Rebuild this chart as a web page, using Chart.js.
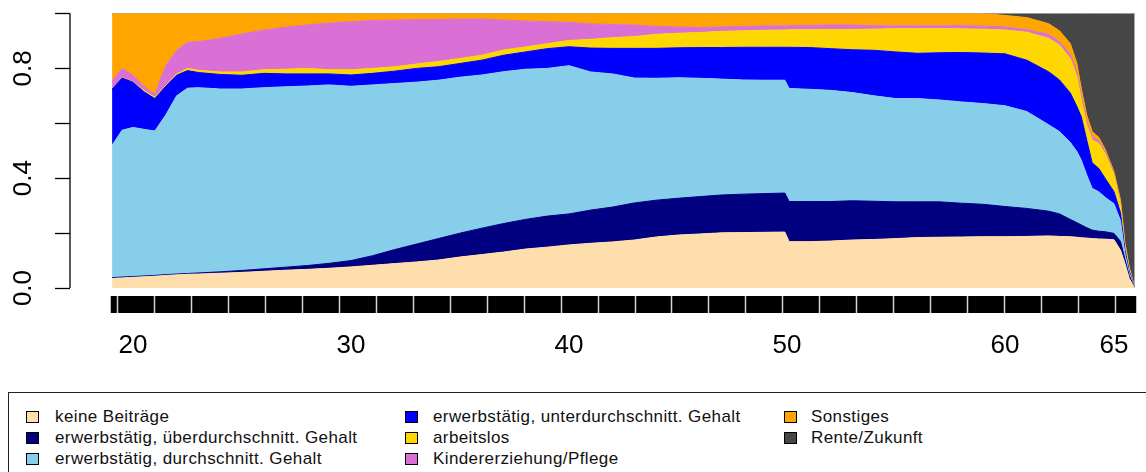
<!DOCTYPE html>
<html>
<head>
<meta charset="utf-8">
<script src="https://cdn.jsdelivr.net/npm/chart.js@4.4.0/dist/chart.umd.min.js"></script>
<style>
  body { margin: 0; background: #fff; font-family: "Liberation Sans", Arial, sans-serif; }
  #wrap { position: relative; width: 1146px; height: 472px; overflow: hidden; }
  #plot { position: absolute; left: 0; top: 0; }
  #legendBox { position: absolute; left: 8px; top: 392px; width: 1160px; height: 120px;
               border: 1px solid #222; box-sizing: border-box; }
  .item { position: absolute; font-size: 17px; letter-spacing: 0.4px; color: #111; line-height: 20px; white-space: nowrap; }
  .sw { position: absolute; width: 11px; height: 10px; border: 1px solid #000; }
</style>
</head>
<body>
<div id="wrap">
  <canvas id="plot" width="1146" height="385"></canvas>
  <div id="legendBox"></div>
</div>
<script>
// age in years (x positions of the readings)
const ages = [19.04, 19.5, 20, 20.5, 21, 21.5, 22, 22.5, 23, 24, 25, 26, 27, 28, 29, 30, 31, 32, 33, 34,
  35, 36, 37, 38, 39, 40, 41, 42, 43, 44, 45, 46, 47, 48, 49, 49.9, 50.1, 51, 52, 53, 54, 55, 56, 57, 58, 59,
  60, 61, 62, 62.5, 63, 63.3, 63.5, 63.75, 64, 64.3, 64.6, 65, 65.3, 65.5, 65.7, 65.95];

// shares per state
const keineBeitraege = [.035,.037,.039,.041,.043,.046,.048,.050,.051,.054,
  .057,.061,.065,.068,.072,.077,.083,.089,.095,.102,
  .113,.122,.131,.142,.149,.157,.163,.168,.175,.186,
  .193,.197,.201,.202,.203,.204,.169,.169,.171,.175,
  .177,.18,.184,.185,.186,.187,.187,.188,.19,.188,
  .187,.185,.183,.182,.18,.179,.178,.176,.138,.09,
  .035,0];
const ueberdurchschnitt = [.003,.003,.003,.003,.003,.003,.003,.003,.004,.005,
  .007,.009,.011,.014,.018,.023,.035,.051,.065,.078,
  .087,.096,.104,.108,.113,.113,.121,.127,.135,.134,
  .134,.136,.138,.14,.141,.142,.146,.146,.144,.143,
  .139,.134,.13,.129,.123,.118,.11,.102,.09,.082,
  .063,.053,.047,.038,.031,.028,.027,.023,.032,.015,
  .01,0];
const durchschnitt = [.482,.535,.543,.534,.526,.581,.649,.675,.675,.666,
  .661,.66,.657,.654,.65,.635,.622,.605,.59,.577,
  .568,.558,.553,.547,.538,.54,.503,.485,.455,.444,
  .439,.431,.422,.416,.413,.411,.412,.409,.405,.394,
  .384,.376,.376,.371,.369,.367,.367,.353,.315,.30,
  .28,.259,.236,.192,.152,.144,.125,.108,.075,.02,
  .01,0];
const unterdurchschnitt = [.205,.19,.165,.137,.118,.105,.075,.064,.055,.053,
  .05,.052,.047,.044,.04,.041,.042,.045,.05,.049,
  .05,.054,.06,.063,.072,.069,.087,.093,.108,.109,
  .109,.112,.115,.119,.12,.12,.15,.152,.152,.156,
  .166,.17,.165,.172,.18,.184,.189,.187,.193,.188,
  .18,.164,.158,.127,.093,.085,.069,.044,.029,.015,
  .007,0];
const arbeitslos = [.002,.002,.002,.005,.005,.003,.005,.008,.008,.009,
  .012,.013,.017,.02,.015,.019,.018,.016,.016,.019,
  .018,.018,.019,.018,.018,.023,.032,.039,.043,.051,
  .053,.055,.059,.06,.062,.063,.064,.065,.07,.074,
  .077,.085,.09,.088,.086,.087,.087,.102,.122,.127,
  .126,.109,.061,.055,.083,.091,.089,.061,.031,.015,
  .008,0];
const kindererziehung = [.028,.033,.023,.015,.010,.072,.085,.095,.104,.123,
  .138,.145,.153,.158,.17,.175,.175,.17,.162,.153,
  .144,.132,.109,.095,.08,.066,.056,.048,.042,.029,
  .023,.018,.016,.016,.016,.015,.015,.016,.016,.016,
  .012,.01,.01,.01,.012,.011,.011,.009,.014,.012,
  .015,.015,.018,.012,.012,.01,.009,.006,.007,.003,
  .002,0];
const sonstiges = [.245,.20,.225,.265,.295,.19,.135,.105,.103,.09,
  .075,.06,.05,.042,.035,.03,.025,.024,.022,.022,
  .02,.02,.024,.027,.03,.032,.038,.04,.042,.047,
  .049,.051,.049,.047,.045,.045,.044,.043,.042,.042,
  .045,.045,.045,.045,.044,.046,.042,.044,.039,.04,
  .039,.033,.024,.024,.019,.012,.008,.006,.009,.007,
  .006,0];
const rente = [0,0,0,0,0,0,0,0,0,0,
  0,0,0,0,0,0,0,0,0,0,
  0,0,0,0,0,0,0,0,0,0,
  0,0,0,0,0,0,0,0,0,0,
  0,0,0,0,0,0,.007,.015,.037,.063,
  .11,.182,.273,.37,.43,.451,.495,.576,.679,.835,
  .922,1];

const seriesNames = ["keine Beiträge", "erwerbstätig, überdurchschnitt. Gehalt",
  "erwerbstätig, durchschnitt. Gehalt", "erwerbstätig, unterdurchschnitt. Gehalt",
  "arbeitslos", "Kindererziehung/Pflege", "Sonstiges", "Rente/Zukunft"];
const seriesColors = ["#FFDEAD", "#000080", "#87CEEB", "#0000FF",
  "#FFD700", "#DA70D6", "#FFA500", "#464646"];
const seriesValues = [keineBeitraege, ueberdurchschnitt, durchschnitt, unterdurchschnitt,
  arbeitslos, kindererziehung, sonstiges, rente];

const xLabels = [20, 30, 40, 50, 60, 65];
const yTicks = [0, 0.2, 0.4, 0.6, 0.8, 1];
const yLabels = [0, 0.4, 0.8];

var datasets = seriesValues.map(function (vals, k) {
  return {
    label: seriesNames[k],
    data: ages.map(function (a, i) { return { x: a, y: vals[i] }; }),
    backgroundColor: seriesColors[k],
    borderColor: seriesColors[k],
    borderWidth: 1,
    pointRadius: 0,
    tension: 0,
    fill: k == 0 ? "origin" : "-1",
  };
});

// y axis line only from 0 to 1, like R
const yAxisLine = {
  id: "yAxisLine",
  afterDraw(chart) {
    var y = chart.scales.y, c = chart.ctx;
    c.save();
    c.strokeStyle = "#000";
    c.lineWidth = 1.3;
    c.beginPath();
    c.moveTo(chart.chartArea.left, y.getPixelForValue(0));
    c.lineTo(chart.chartArea.left, y.getPixelForValue(1));
    c.stroke();
    c.restore();
  },
};

new Chart(document.getElementById("plot"), {
  type: "line",
  data: { datasets: datasets },
  plugins: [yAxisLine],
  options: {
    responsive: false,
    animation: false,
    layout: { padding: { top: 13.5, right: 10, left: 0, bottom: 0 } },
    plugins: { legend: { display: false }, tooltip: { enabled: false } },
    scales: {
      x: {
        type: "linear",
        min: 17.11,
        max: 66.01,
        afterBuildTicks: function (s) {
          var t = [];
          for (var m = 0; 19.04 + m / 12 <= 66.0; m++) t.push({ value: 19.04 + m / 12 });
          xLabels.forEach(function (v) { t.push({ value: v, lab: true }); });
          for (var g = 0; g < 28; g++) t.push({ value: 19.27 + g * 1.697, gap: true });
          s.ticks = t;
        },
        afterFit: function (s) {
          s.height = 89;
          s.paddingLeft = 0;
          s.paddingRight = 0;
        },
        border: { display: false },
        grid: {
          drawOnChartArea: false,
          drawTicks: true,
          tickLength: 17,
          lineWidth: 1,
          tickColor: function (ctx) { return ctx.tick && ctx.tick.gap ? "#d4d4d4" : "#000"; },
          tickWidth: function (ctx) { return ctx.tick && ctx.tick.gap ? 1.5 : 3.5; },
        },
        ticks: {
          autoSkip: false,
          maxRotation: 0,
          minRotation: 0,
          padding: 17,
          color: "#000",
          font: { family: "Liberation Sans", size: 26 },
          callback: function (v, i, t) { return t[i].lab ? String(v) : ""; },
        },
      },
      y: {
        stacked: true,
        min: -0.029,
        max: 1,
        afterBuildTicks: function (s) {
          s.ticks = yTicks.map(function (v) { return { value: v }; });
        },
        afterFit: function (s) {
          s.width = 70;
          s.paddingTop = 0;
          s.paddingBottom = 0;
        },
        border: { display: false },
        grid: { drawOnChartArea: false, tickLength: 15, tickColor: "#000", tickWidth: 1.3 },
        ticks: {
          minRotation: 90,
          maxRotation: 90,
          crossAlign: "center",
          padding: 13,
          color: "#000",
          font: { family: "Liberation Sans", size: 26 },
          callback: function (v) {
            return yLabels.indexOf(v) >= 0 ? v.toFixed(1) : "";
          },
        },
      },
    },
  },
});

// legend, three columns filled top to bottom as in the R plot
var wrap = document.getElementById("wrap");
var colBox = [26, 405, 784];
var colText = [55, 433, 811];
var rowY = [417, 438, 459];
seriesNames.forEach(function (name, i) {
  var col = Math.floor(i / 3), row = i % 3;
  var sw = document.createElement("div");
  sw.className = "sw";
  sw.style.left = colBox[col] + "px";
  sw.style.top = (rowY[row] - 6) + "px";
  sw.style.background = seriesColors[i];
  wrap.appendChild(sw);
  var it = document.createElement("div");
  it.className = "item";
  it.style.left = colText[col] + "px";
  it.style.top = (rowY[row] - 10) + "px";
  it.textContent = name;
  wrap.appendChild(it);
});
</script>
</body>
</html>
